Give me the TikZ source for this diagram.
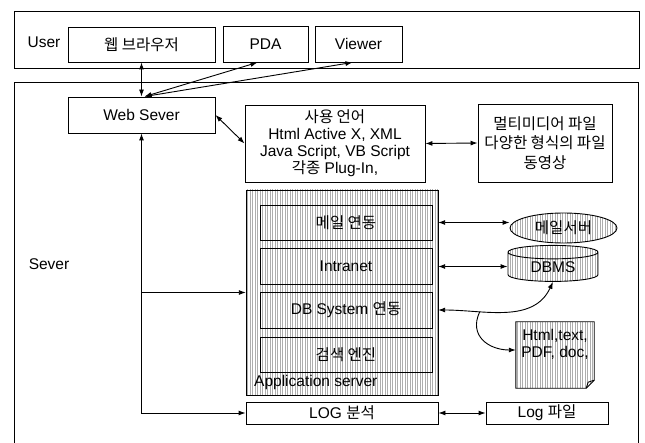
\documentclass[tikz,border=0pt]{standalone}
\usepackage{fontspec}
\setmainfont{Liberation Sans}
\newfontfamily\kr{Noto Sans CJK KR}
\usetikzlibrary{arrows.meta,shapes.geometric,patterns.meta}

\begin{document}
\begin{tikzpicture}[x=1pt,y=-1pt,
  box/.style={draw,line width=0.9pt,inner sep=0pt,align=center,font=\fontsize{15.5}{17}\selectfont},
  layerbox/.style={draw,line width=0.9pt,inner sep=0pt},
  texture/.style={pattern={Lines[angle=90,distance=2.5pt,line width=0.35pt]},pattern color=black!32},
  tag/.style={inner sep=0pt,font=\fontsize{15.5}{17}\selectfont},
  arrow/.style={-{Latex[length=7pt,width=5pt]},line width=0.9pt},
  twoway/.style={{Latex[length=7pt,width=5pt]}-{Latex[length=7pt,width=5pt]},line width=0.9pt}
]
\useasboundingbox (0,0) rectangle (645,443);
% layers
\node[layerbox,minimum width=625pt,minimum height=57pt] (userlayer) at (326.5,39.5) {};
\draw[line width=0.9pt] (14,443) |- (638,82) -- (638,443);
\node[tag] (usertag) at (44,42) {User};
\node[tag] (servertag) at (49,264) {Sever};
% user side
\node[box,minimum width=147pt,minimum height=35pt] (browser) at (141.5,44.5) {\kr 웹 브라우저};
\node[box,minimum width=85pt,minimum height=36pt] (pda) at (265.5,44) {PDA};
\node[box,minimum width=87pt,minimum height=36pt] (viewer) at (358.5,44) {Viewer};
% server side
\node[box,minimum width=147pt,minimum height=36pt] (websever) at (141.5,115) {Web Sever};
\node[box,minimum width=180pt,minimum height=77pt] (language) at (335,143.5) {{\kr 사용 언어}\\Html Active X, XML\\Java Script, VB Script\\{\kr 각종} Plug-In,};
\node[box,minimum width=134pt,minimum height=78pt,font=\fontsize{15.5}{19.5}\selectfont] (multimedia) at (545,143) {{\kr 멀티미디어 파일}\\{\kr 다양한 형식의 파일}\\{\kr 동영상}};
\node[layerbox,texture,minimum width=192pt,minimum height=205pt] (app) at (342,292.5) {};
\node[box,texture,minimum width=172pt,minimum height=35pt] (mail) at (346,222.5) {\kr 메일 연동};
\node[box,texture,minimum width=172pt,minimum height=36pt] (intranet) at (346,266.5) {Intranet};
\node[box,texture,minimum width=172pt,minimum height=36pt] (dbsys) at (346,310) {DB System {\kr 연동}};
\node[box,texture,minimum width=172pt,minimum height=35pt] (search) at (346,354.5) {\kr 검색 엔진};
\node[tag,anchor=west] (apptag) at (254,382) {Application server};
\node[box,ellipse,texture,minimum width=107pt,minimum height=30pt] (mailserver) at (563.5,228) {\kr 메일서버};
\node[box,cylinder,shape border rotate=90,aspect=0.3,texture,minimum width=90pt,minimum height=36pt] (dbms) at (553,267) {DBMS};
\node[inner sep=0pt,minimum width=78pt,minimum height=66pt] (doc) at (555,355) {};
\draw[texture,line width=0.9pt] (doc.north west) -- (doc.north east) -- ([yshift=8pt]doc.south east) -- ([xshift=-8pt]doc.south east) -- (doc.south west) -- cycle;
\draw[line width=0.9pt] ([xshift=-8pt]doc.south east) -- ([xshift=-6pt,yshift=6pt]doc.south east) -- ([yshift=8pt]doc.south east);
\node[tag,align=center] (doctext) at ([yshift=11pt]doc.center) {Html,text,\\PDF, doc,};
\node[box,minimum width=192pt,minimum height=22pt] (log) at (342,413) {LOG {\kr 분석}};
\node[box,minimum width=122pt,minimum height=22pt] (logfile) at (547,413) {Log {\kr 파일}};
% connectors
\draw[twoway] (browser.south) -- (websever.north);
\draw[twoway] ([xshift=-8pt]pda.south) -- ([xshift=3pt]websever.north);
\draw[twoway] ([xshift=-6pt]viewer.south) -- ([xshift=3pt]websever.north);
\draw[twoway] (websever.east) -- (language.west);
\draw[twoway] (language.east) -- (multimedia.west);
\coordinate (trunkend) at (websever.south |- log.west);
\draw[twoway] (websever.south) -- (trunkend) -- (log.west);
\draw[arrow] (websever.south |- app.west) -- (app.west);
\draw[twoway] (app.east |- mail.east) -- (mail.east -| mailserver.west);
\draw[twoway] (app.east |- intranet.east) -- (intranet.east -| dbms.west);
\draw[twoway] (app.east |- dbsys.east) to[out=0,in=-115] coordinate[pos=0.3] (split) (dbms.south);
\draw[arrow] (split) to[out=-115,in=180,looseness=1.3] ([yshift=5pt]doc.west);
\draw[twoway] (log.east) -- (logfile.west);
\end{tikzpicture}
\end{document}
